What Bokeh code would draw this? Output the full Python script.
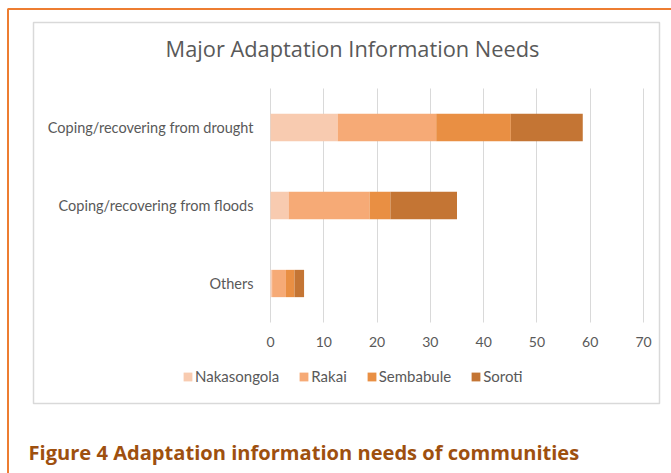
from bokeh.plotting import figure
from bokeh.models import (Range1d, Legend, LegendItem, Label, BoxAnnotation,
                          FixedTicker, LinearAxis)
from bokeh.embed import file_html
from bokeh.resources import INLINE

# ---- data ----
categories = ["Coping/recovering from drought", "Coping/recovering from floods", "Others"]
series = ["Nakasongola", "Rakai", "Sembabule", "Soroti"]
nakasongola = [12.6, 3.4, 0.3]
rakai = [18.5, 15.2, 2.6]
sembabule = [14.0, 3.9, 1.6]
soroti = [13.5, 12.5, 1.8]
x_ticks = [0, 10, 20, 30, 40, 50, 60, 70]
title_text = "Major Adaptation Information Needs"
caption_text = "Figure 4 Adaptation information needs of communities"

colors = ["#F8CBB0", "#F6AA76", "#E98F43", "#C47534"]
FONT = "Lato"
GREY_TXT = "#595959"
W, H = 671, 473

# ---- layout constants (pixels on the canvas) ----
X0_PX, X70_PX = 270, 643          # where 0 and 70 fall
BAND_PX = 78                      # height of one category band
OTHERS_PX = 283                   # centre of the lowest category
ppu = (X70_PX - X0_PX) / 70.0

# category positions (top category highest)
ypos = list(range(len(categories) - 1, -1, -1))

p = figure(width=W, height=H, output_backend="svg", toolbar_location=None,
           x_axis_type=None, y_axis_type=None,
           x_range=Range1d(-X0_PX / ppu, (W - X0_PX) / ppu),
           y_range=Range1d(-(H - OTHERS_PX) / BAND_PX, OTHERS_PX / BAND_PX),
           min_border_left=0, min_border_right=0, min_border_top=0,
           min_border_bottom=0)
p.outline_line_color = None
p.background_fill_color = "white"
p.border_fill_color = "white"

# boxes
outer = BoxAnnotation(left=7.5, right=W + 40, top=H - 8.5, bottom=-60,
                      left_units="screen", right_units="screen",
                      top_units="screen", bottom_units="screen",
                      fill_color=None, fill_alpha=0, line_color="#ED7D31",
                      line_alpha=1, line_width=2, level="underlay")
inner = BoxAnnotation(left=33, right=659, top=H - 22, bottom=H - 403,
                      left_units="screen", right_units="screen",
                      top_units="screen", bottom_units="screen",
                      fill_color=None, fill_alpha=0, line_color="#D9D9D9",
                      line_alpha=1, line_width=1.5, level="underlay")
p.add_layout(outer)
p.add_layout(inner)

data = {"y": ypos, "Nakasongola": nakasongola, "Rakai": rakai,
        "Sembabule": sembabule, "Soroti": soroti}
renderers = p.hbar_stack(series, y="y", height=0.35, color=colors,
                         line_color=None, source=data)

# x axis placed at the bottom of the category area; its ticks form the gridlines
xaxis = LinearAxis(ticker=FixedTicker(ticks=x_ticks), fixed_location=-0.5,
                   level="underlay")
xaxis.axis_line_color = None
xaxis.major_tick_line_color = "#D9D9D9"
xaxis.major_tick_line_width = 1
xaxis.major_tick_in = 3 * BAND_PX
xaxis.major_tick_out = 0
xaxis.minor_tick_line_color = None
xaxis.major_label_standoff = 14
xaxis.major_label_text_font = FONT
xaxis.major_label_text_font_size = "14px"
xaxis.major_label_text_color = GREY_TXT
p.add_layout(xaxis, "below")

yaxis = LinearAxis(ticker=FixedTicker(ticks=ypos), fixed_location=0,
                   major_label_overrides={v: c for v, c in zip(ypos, categories)})
yaxis.axis_line_color = None
yaxis.major_tick_line_color = None
yaxis.minor_tick_line_color = None
yaxis.major_tick_in = 0
yaxis.major_tick_out = 0
yaxis.major_label_standoff = 17
yaxis.major_label_text_font = FONT
yaxis.major_label_text_font_size = "14.5px"
yaxis.major_label_text_color = GREY_TXT
p.add_layout(yaxis, "left")

p.add_layout(Label(x=352, y=H - 48, x_units="screen", y_units="screen",
                   text=title_text, text_align="center", text_baseline="middle",
                   text_font="Open Sans", text_font_size="21.8px", text_color=GREY_TXT))
p.add_layout(Label(x=28, y=H - 452, x_units="screen", y_units="screen",
                   text=caption_text, text_align="left", text_baseline="middle",
                   text_font="Open Sans", text_font_size="20.1px",
                   text_font_style="bold", text_color="#9E500F"))

legend = Legend(items=[LegendItem(label=s, renderers=[r]) for s, r in zip(series, renderers)],
                orientation="horizontal", location=(182, H - 385),
                glyph_width=11, glyph_height=11, label_height=13, label_standoff=2,
                spacing=19, padding=0, margin=0, border_line_color=None,
                background_fill_alpha=0,
                label_text_font=FONT, label_text_font_size="15px",
                label_text_color=GREY_TXT)
p.add_layout(legend, "center")

open("out.html", "w").write(file_html(p, INLINE))
